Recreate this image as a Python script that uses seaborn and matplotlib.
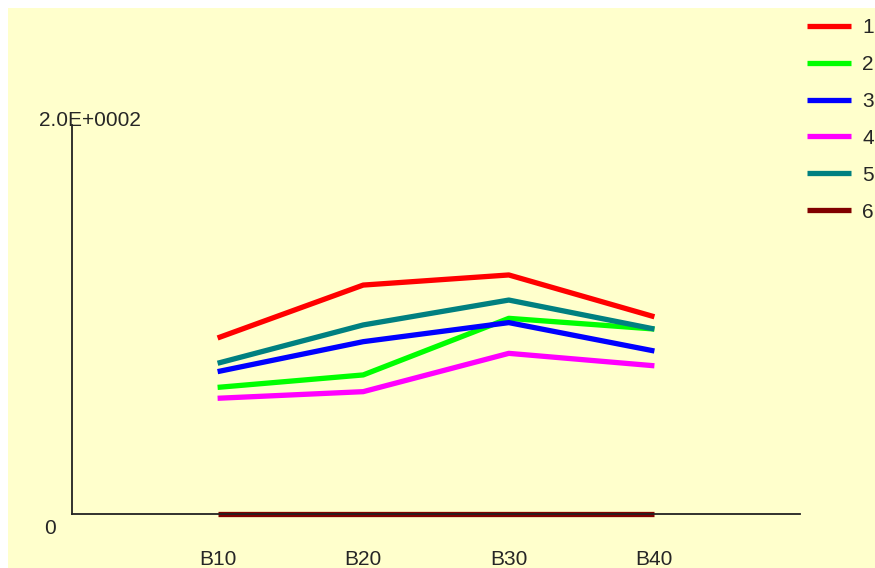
import numpy as np
import pandas as pd
import matplotlib
matplotlib.use('Agg')
import matplotlib.pyplot as plt
import seaborn as sns
from matplotlib.patches import Rectangle

# 数据
categories = ['B10', 'B20', 'B30', 'B40']
series_names = ['1', '2', '3', '4', '5', '6']
s1 = [90.5, 117.7, 122.9, 101.4]
s2 = [65.1, 71.5, 100.6, 95.1]
s3 = [73.2, 88.6, 98.4, 83.8]
s4 = [59.5, 62.9, 82.6, 76.2]
s5 = [77.5, 97.2, 110.0, 95.1]
s6 = [0, 0, 0, 0]
colors = ['#FF0000', '#00FF00', '#0000FF', '#FF00FF', '#008080', '#800000']
y_ticks = [52, 104, 157]

rows = []
for name, vals in zip(series_names, [s1, s2, s3, s4, s5, s6]):
    for i, v in enumerate(vals):
        rows.append({'x': i, 'value': v, 'series': name})
df = pd.DataFrame(rows)

sns.set_style('white')
plt.rcParams['font.family'] = ['Liberation Sans', 'DejaVu Sans']

bg = '#FFFFCC'
fig = plt.figure(figsize=(8.75, 5.68), dpi=100, facecolor='white')
# 黄色背景区域
fig.patches.append(Rectangle((8 / 875, 0), 1, 1 - 8 / 568, transform=fig.transFigure,
                             facecolor=bg, edgecolor='none', zorder=-10))

ax = fig.add_axes([72 / 875, 54 / 568, 728 / 875, 389 / 568])
ax.set_facecolor('none')

sns.lineplot(data=df, x='x', y='value', hue='series', hue_order=series_names,
             palette=colors, linewidth=3.8, ax=ax, clip_on=False,
             solid_capstyle='butt')

ax.set_xlim(-1, 4)
ax.set_ylim(0, 200)
ax.set_xticks(range(len(categories)))
ax.set_xticklabels(categories, fontsize=15)
ax.tick_params(axis='x', length=0, pad=26)
ax.set_yticks(y_ticks)
ax.set_yticklabels([])
ax.tick_params(axis='y', length=11, width=1.3, direction='out', color='#222222')
ax.set_xlabel('')
ax.set_ylabel('')

for side in ['top', 'right']:
    ax.spines[side].set_visible(False)
for side in ['left', 'bottom']:
    ax.spines[side].set_color('#222222')
    ax.spines[side].set_linewidth(1.3)

ax.annotate('0', xy=(0, 0), xycoords=('axes fraction', 'data'),
            xytext=(-22, -14), textcoords='offset pixels',
            ha='center', va='center', fontsize=15)
ax.annotate('2.0E+0002', xy=(0, 1), xycoords='axes fraction',
            xytext=(18, 5), textcoords='offset pixels',
            ha='center', va='center', fontsize=15)

sns.move_legend(ax, 'upper left', bbox_to_anchor=(807 / 875, 1 - 18 / 568),
                bbox_transform=fig.transFigure, frameon=False, title=None,
                fontsize=15, handlelength=2.1, handletextpad=0.55,
                labelspacing=0.86, borderpad=0, borderaxespad=0)

fig.savefig('out.png', dpi=100, facecolor=fig.get_facecolor())
